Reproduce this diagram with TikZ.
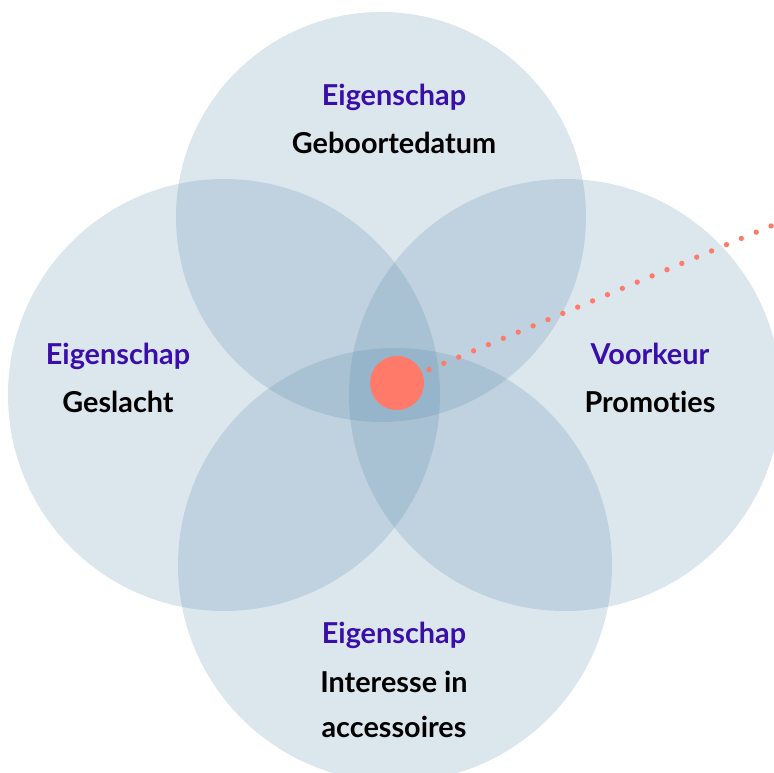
\documentclass[tikz,border=0pt]{standalone}
\usepackage{fontspec}
\setmainfont[Ligatures=NoCommon]{Lato}
\definecolor{venn}{RGB}{80,130,165}
\definecolor{lbl}{RGB}{58,14,170}
\definecolor{dotred}{RGB}{255,122,104}
\begin{document}
\begin{tikzpicture}[x=0.75pt,y=-0.75pt,
  vcircle/.style={circle,inner sep=0pt,fill=venn,fill opacity=0.2,draw=none},
  cat/.style={anchor=base,text=lbl,font=\fontsize{21.6}{25}\selectfont\bfseries},
  val/.style={anchor=base,text=black,font=\fontsize{21.6}{25}\selectfont\bfseries},
  hit/.style={circle,inner sep=0pt,minimum size=40.5pt,fill=dotred},
  trail/.style={dotred,line width=4pt,line cap=round,dash pattern=on 0pt off 12.1pt}]
\useasboundingbox (0,0) rectangle (774,773);
\node[vcircle,minimum size=307.5pt] (top) at (381,217) {};
\node[vcircle,minimum size=324pt] (left) at (224,395) {};
\node[vcircle,minimum size=324pt] (right) at (565,395) {};
\node[vcircle,minimum size=325.5pt] (bottom) at (395,565) {};
\node[hit] (dot) at (397,383) {};
\coordinate (far) at (790,218);
\draw[trail,shorten <=26pt] (dot.center) -- (far);
\node[cat] (t1) at (394,106) {Eigenschap};
\node[val] (t2) at (394,154) {Geboortedatum};
\node[cat] (l1) at (118,364) {Eigenschap};
\node[val] (l2) at (118,412) {Geslacht};
\node[cat] (r1) at (650,364) {Voorkeur};
\node[val] (r2) at (650,412) {Promoties};
\node[cat] (b1) at (394,643) {Eigenschap};
\node[val] (b2) at (394,692) {Interesse in};
\node[val] (b3) at (394,737) {accessoires};
\end{tikzpicture}
\end{document}
